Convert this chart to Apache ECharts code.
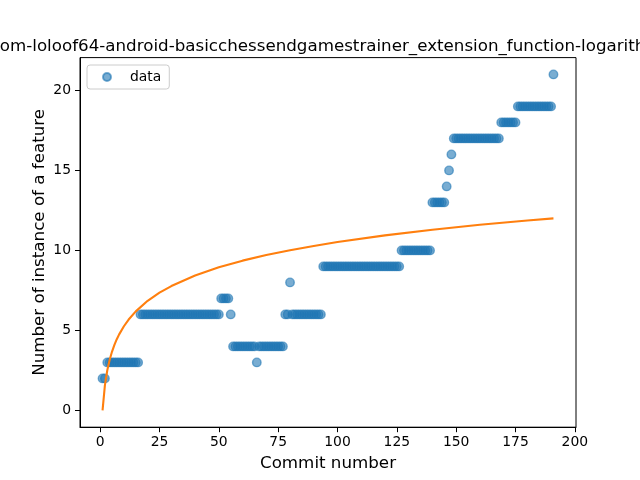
<!DOCTYPE html>
<html>
<head>
<meta charset="utf-8">
<script src="https://cdn.jsdelivr.net/npm/echarts@6/dist/echarts.min.js"></script>
<style>
  html, body { margin: 0; padding: 0; background: #ffffff; }
  #chart { width: 640px; height: 480px; }
</style>
</head>
<body>
<div id="chart"></div>
<script>
// number of feature instances per commit (commit 1 .. 191)
const featureCounts = [
    2, 2, 3, 3, 3, 3, 3, 3, 3, 3,
    3, 3, 3, 3, 3, 3, 6, 6, 6, 6,
    6, 6, 6, 6, 6, 6, 6, 6, 6, 6,
    6, 6, 6, 6, 6, 6, 6, 6, 6, 6,
    6, 6, 6, 6, 6, 6, 6, 6, 6, 6,
    7, 7, 7, 7, 6, 4, 4, 4, 4, 4,
    4, 4, 4, 4, 4, 3, 4, 4, 4, 4,
    4, 4, 4, 4, 4, 4, 4, 6, 6, 8,
    6, 6, 6, 6, 6, 6, 6, 6, 6, 6,
    6, 6, 6, 9, 9, 9, 9, 9, 9, 9,
    9, 9, 9, 9, 9, 9, 9, 9, 9, 9,
    9, 9, 9, 9, 9, 9, 9, 9, 9, 9,
    9, 9, 9, 9, 9, 9, 10, 10, 10, 10,
    10, 10, 10, 10, 10, 10, 10, 10, 10, 13,
    13, 13, 13, 13, 13, 14, 15, 16, 17, 17,
    17, 17, 17, 17, 17, 17, 17, 17, 17, 17,
    17, 17, 17, 17, 17, 17, 17, 17, 18, 18,
    18, 18, 18, 18, 18, 19, 19, 19, 19, 19,
    19, 19, 19, 19, 19, 19, 19, 19, 19, 19,
    21
]
// logarithmic fit (orange line)
const fitX = [1, 2, 3, 4, 5, 6, 7, 8, 10, 12, 15, 20, 25, 30, 40, 50, 60, 70, 80, 90, 100, 120, 140, 160, 180, 191]
const fitY = [0, 1.58, 2.51, 3.17, 3.68, 4.09, 4.45, 4.75, 5.26, 5.68, 6.19, 6.85, 7.36, 7.77, 8.43, 8.94, 9.36, 9.71, 10.01, 10.28, 10.52, 10.94, 11.29, 11.6, 11.87, 12.0]
// tick labels
const xTicks = [0, 25, 50, 75, 100, 125, 150, 175, 200]
const yTicks = [0, 5, 10, 15, 20]

const titleText = 'com-loloof64-android-basicchessendgamestrainer_extension_function-logarithmic'
const font = 'DejaVu Sans'

const scatterData = featureCounts.map((v, i) => [i + 1, v])
const fitData = fitX.map((x, i) => [x, fitY[i]])

const axisCommon = {
    splitLine: { show: false },
    axisLine: { show: true, onZero: false, lineStyle: { color: '#000', width: 1 } },
    axisTick: { show: true, inside: false, length: 5, lineStyle: { color: '#000', width: 1 } },
    axisLabel: { color: '#000', fontFamily: font, fontSize: 13.9 },
    nameLocation: 'middle',
    nameMoveOverlap: false,
    nameTextStyle: { color: '#000', fontFamily: font, fontSize: 16.7 }
}

const getOptions = () => ({
    backgroundColor: '#ffffff',
    animation: false,
    title: {
        text: titleText,
        left: 328,
        textAlign: 'center',
        top: 33,
        textStyle: { fontFamily: font, fontSize: 16.7, fontWeight: 'normal', color: '#000' }
    },
    legend: {
        left: 87,
        top: 65,
        orient: 'vertical',
        padding: [5, 8, 5, 15],
        itemWidth: 8,
        itemHeight: 8,
        borderColor: '#cccccc',
        borderWidth: 1,
        borderRadius: 3,
        backgroundColor: 'rgba(255,255,255,0.8)',
        textStyle: { fontFamily: font, fontSize: 13.9, color: '#000', padding: [0, 0, 0, 14] },
        data: [{ name: 'data', icon: 'circle', itemStyle: { opacity: 0.6 } }]
    },
    grid: {
        left: 80,
        right: 64,
        top: 57.6,
        bottom: 52.8,
        show: true,
        borderColor: '#000',
        borderWidth: 1,
        backgroundColor: 'transparent'
    },
    xAxis: Object.assign({}, axisCommon, {
        type: 'value',
        min: -8.5,
        max: 200.5,
        name: 'Commit number',
        nameGap: 28,
        axisTick: Object.assign({}, axisCommon.axisTick, { customValues: xTicks }),
        axisLabel: Object.assign({}, axisCommon.axisLabel, { customValues: xTicks, margin: 8 })
    }),
    yAxis: Object.assign({}, axisCommon, {
        type: 'value',
        min: -1.05,
        max: 22.05,
        name: 'Number of instance of a feature',
        nameGap: 32,
        axisTick: Object.assign({}, axisCommon.axisTick, { customValues: yTicks }),
        axisLabel: Object.assign({}, axisCommon.axisLabel, { customValues: yTicks, margin: 9 })
    }),
    series: [
        {
            name: 'data',
            type: 'scatter',
            data: scatterData,
            symbol: 'circle',
            symbolSize: 8.5,
            itemStyle: { color: '#1f77b4', opacity: 0.6, borderColor: '#1f77b4', borderWidth: 1.4 },
            z: 2
        },
        {
            name: 'fit',
            type: 'line',
            data: fitData,
            showSymbol: false,
            symbol: 'none',
            lineStyle: { color: '#ff7f0e', width: 2.1 },
            itemStyle: { color: '#ff7f0e' },
            z: 3
        }
    ]
})

const chart = echarts.init(document.getElementById('chart'), null, { renderer: 'canvas' })
chart.setOption(getOptions())
</script>
</body>
</html>
